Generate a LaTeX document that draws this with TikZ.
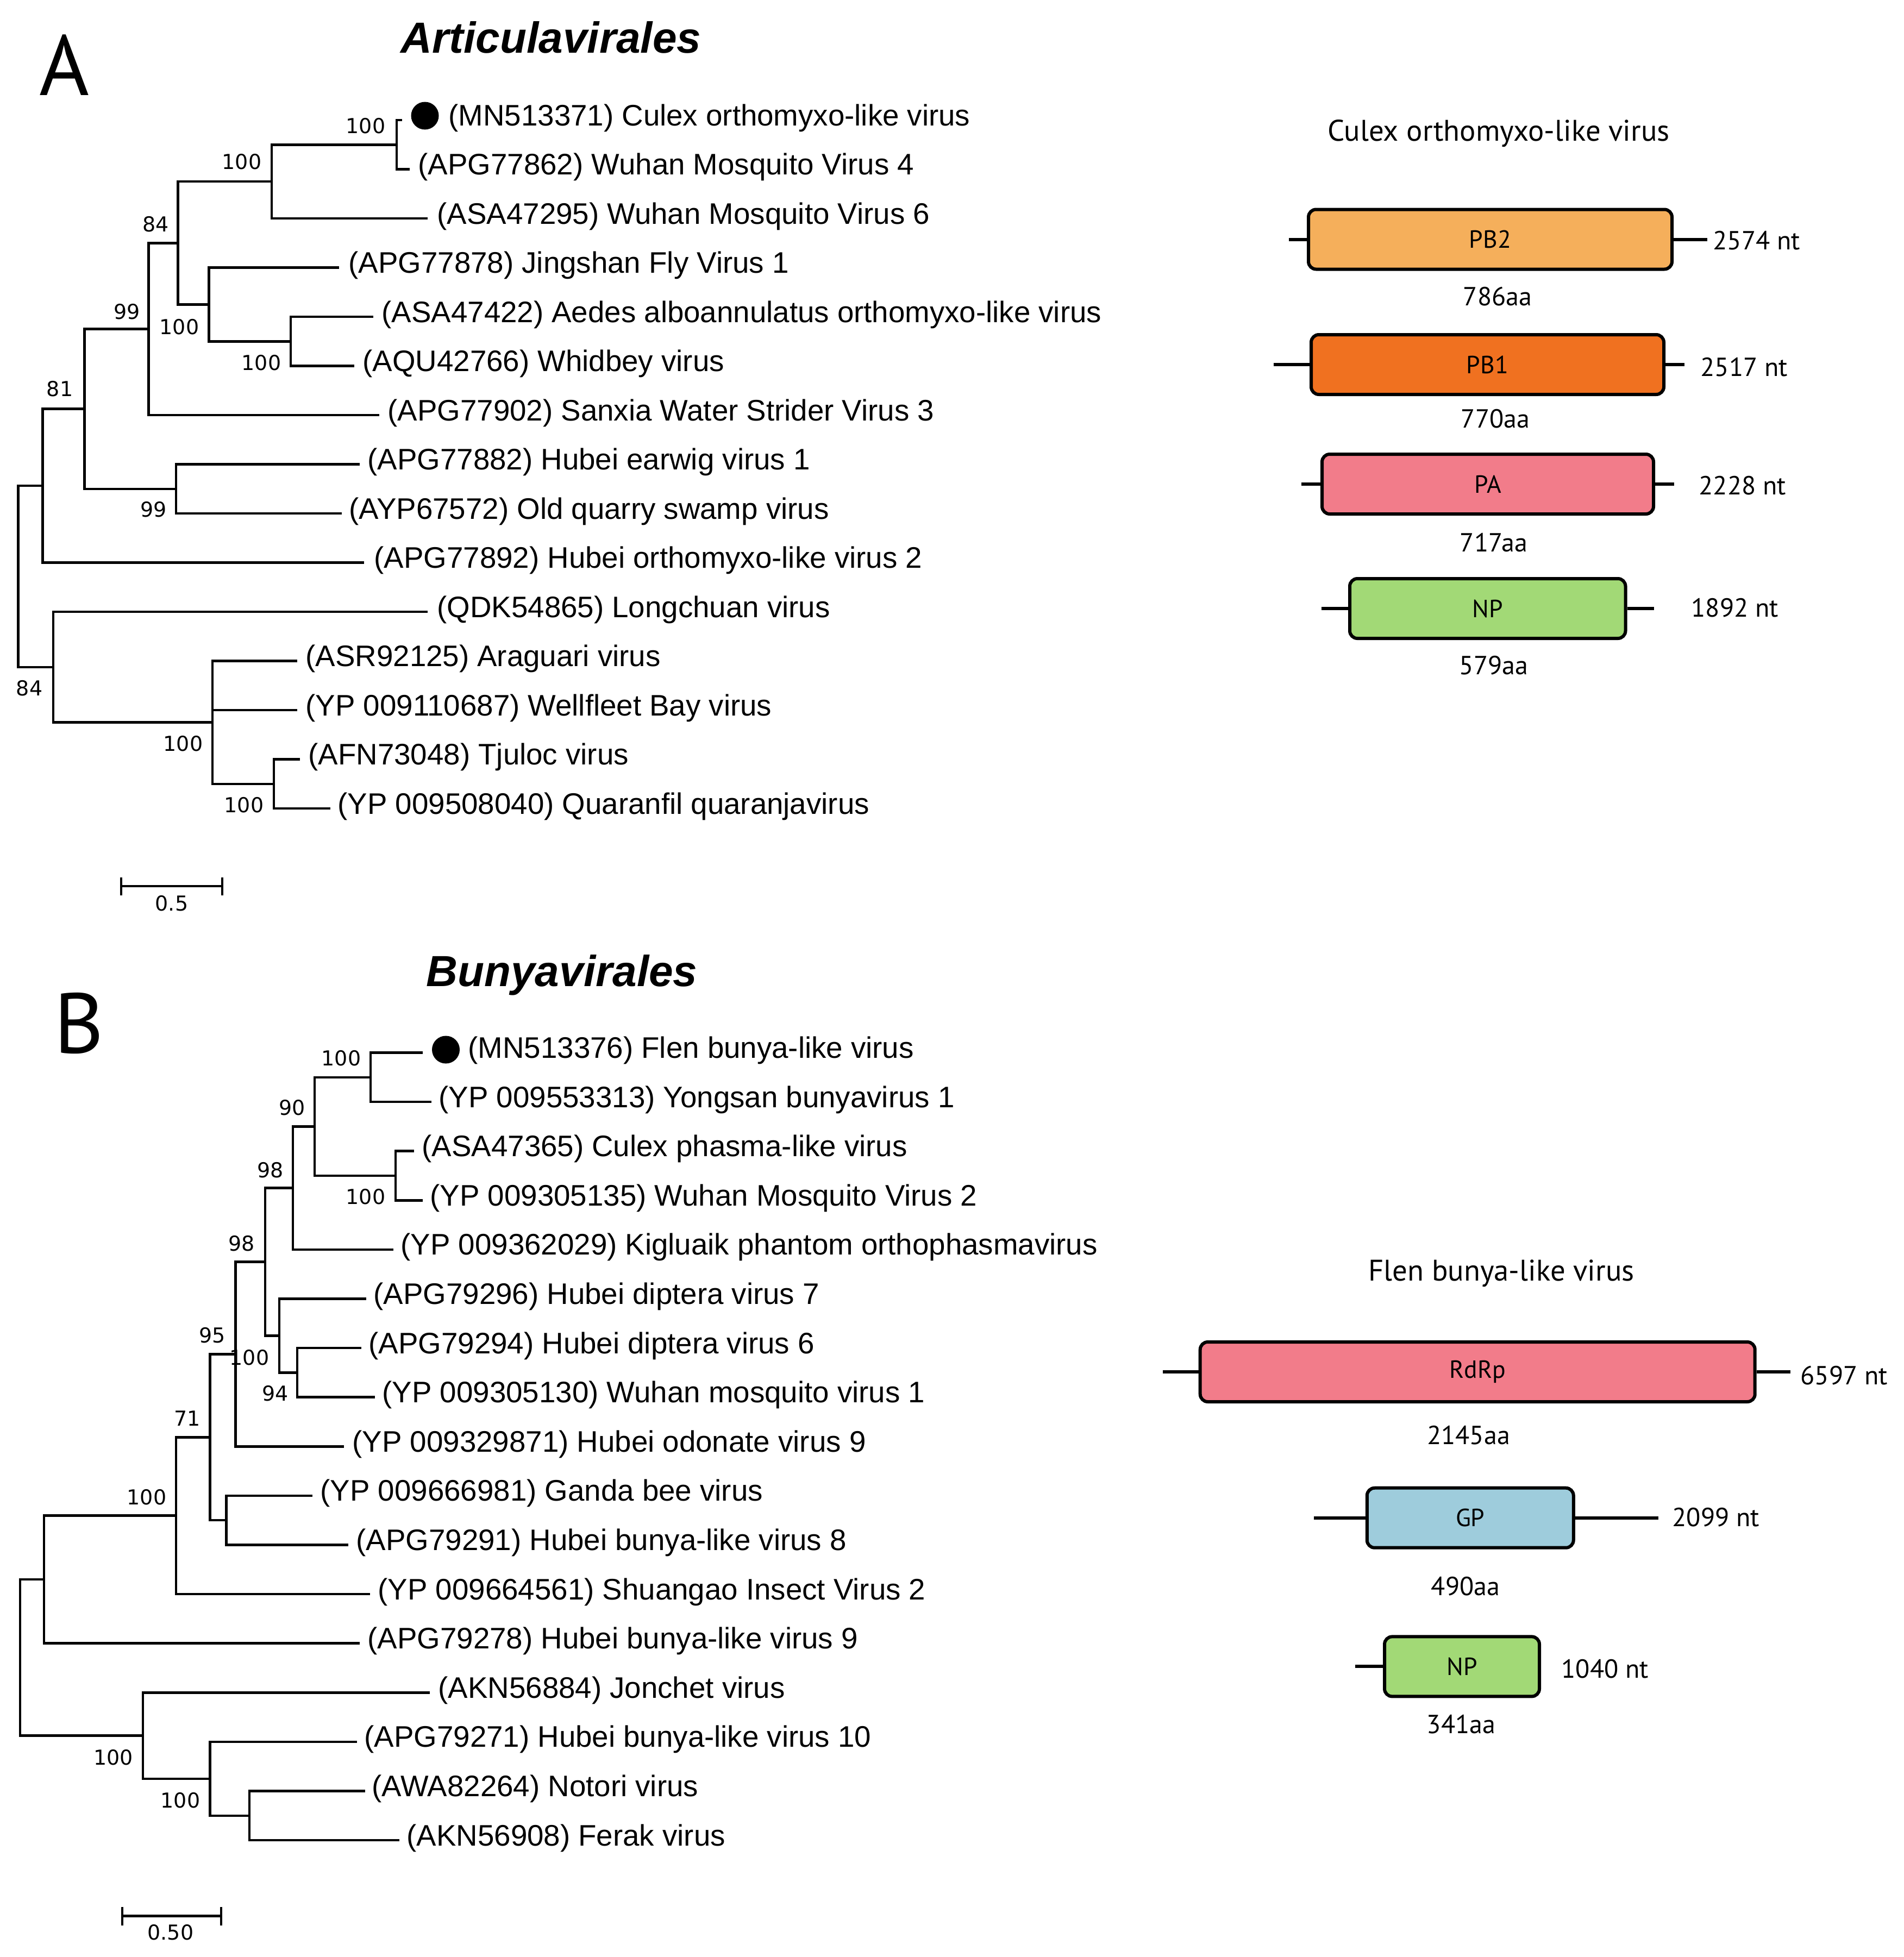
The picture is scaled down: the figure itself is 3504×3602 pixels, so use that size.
\documentclass[tikz,border=0pt]{standalone}
\usepackage{fontspec}
\setmainfont{Liberation Sans}
\newfontfamily\genefont{PT Sans}
\newfontfamily\bootfont{DejaVu Sans}
\usetikzlibrary{positioning}

\definecolor{pbtwo}{RGB}{245,175,91}
\definecolor{pbone}{RGB}{240,113,32}
\definecolor{papink}{RGB}{242,124,138}
\definecolor{npgreen}{RGB}{162,217,118}
\definecolor{gpblue}{RGB}{158,204,220}

\tikzset{
  branch/.style={line width=0.45mm},
  leafname/.style={anchor=base west, inner sep=0pt, font={\fontsize{15.55}{18}\selectfont}},
  bootval/.style={anchor=east, inner sep=0pt, font={\bootfont\fontsize{10.8}{13}\selectfont}},
  marker/.style={circle, fill=black, inner sep=0pt, minimum size=5.1mm},
  paneltag/.style={inner sep=0pt, font={\genefont\fontsize{44.7}{50}\selectfont}},
  ordername/.style={anchor=base, inner sep=0pt, font={\bfseries\itshape\fontsize{22.8}{26}\selectfont}},
  genetitle/.style={inner sep=0pt, font={\genefont\fontsize{15.6}{18}\selectfont}},
  genebox/.style={draw, line width=0.6mm, rounded corners=1.4mm, inner sep=0pt,
    minimum height=11mm, font={\genefont\fontsize{13}{15}\selectfont}},
  genestub/.style={line width=0.6mm},
  ntlabel/.style={anchor=west, inner sep=0pt, font={\genefont\fontsize{13.7}{16}\selectfont}},
  aalabel/.style={inner sep=0pt, font={\genefont\fontsize{13.7}{16}\selectfont}}
}

\begin{document}
\begin{tikzpicture}[x=0.1mm, y=-0.1mm]
\useasboundingbox (0,0) rectangle (3504,3602);

% ---------- panel A : Articulavirales tree
\node[paneltag] (pA) at (118,120) {A};
\node[ordername] (oA) at (1014,97) {Articulavirales};

\coordinate (la1) at (740,221);
\coordinate (la2) at (754,311.5);
\coordinate (la3) at (787,402);
\coordinate (la4) at (624,492.5);
\coordinate (la5) at (687,583);
\coordinate (la6) at (652,673.5);
\coordinate (la7) at (698,764);
\coordinate (la8) at (661.5,854.5);
\coordinate (la9) at (629,945);
\coordinate (la10) at (670,1035.5);
\coordinate (la11) at (787,1126);
\coordinate (la12) at (547,1216.5);
\coordinate (la13) at (547,1307);
\coordinate (la14) at (552,1397.5);
\coordinate (la15) at (607.5,1488);

\coordinate (a1) at (730,266.25);
\coordinate (a2) at (500,334.1);
\coordinate (a3) at (327.6,447.25);
\coordinate (a4) at (535,628.25);
\coordinate (a5) at (384.4,560.4);
\coordinate (a6) at (273.6,605.6);
\coordinate (a7) at (324,899.75);
\coordinate (a8) at (155.7,752.7);
\coordinate (a9) at (78.6,894.1);
\coordinate (a10) at (98,1227.8);
\coordinate (a11) at (391,1329.6);
\coordinate (a12) at (504,1442.75);
\coordinate (ar) at (33.7,1061);

\draw[branch] (a1) |- (la1) (a1) |- (la2)
  (a2) |- (a1) (a2) |- (la3)
  (a4) |- (la5) (a4) |- (la6)
  (a5) |- (la4) (a5) |- (a4)
  (a3) |- (a2) (a3) |- (a5)
  (a6) |- (a3) (a6) |- (la7)
  (a7) |- (la8) (a7) |- (la9)
  (a8) |- (a6) (a8) |- (a7)
  (a9) |- (a8) (a9) |- (la10)
  (a12) |- (la14) (a12) |- (la15)
  (a11) |- (la12) (a11) |- (la13) (a11) |- (a12)
  (a10) |- (la11) (a10) |- (a11)
  (ar) |- (a9) (ar) |- (a10);

\node[marker] (ma) at (782,213) {};
\node[leafname] (ta1) at (825,231) {(MN513371) Culex orthomyxo-like virus};
\node[leafname] (ta2) at (769,321.5) {(APG77862) Wuhan Mosquito Virus 4};
\node[leafname] (ta3) at (804,412) {(ASA47295) Wuhan Mosquito Virus 6};
\node[leafname] (ta4) at (641,502.5) {(APG77878) Jingshan Fly Virus 1};
\node[leafname] (ta5) at (702,593) {(ASA47422) Aedes alboannulatus orthomyxo-like virus};
\node[leafname] (ta6) at (667,683.5) {(AQU42766) Whidbey virus};
\node[leafname] (ta7) at (713,774) {(APG77902) Sanxia Water Strider Virus 3};
\node[leafname] (ta8) at (676,864.5) {(APG77882) Hubei earwig virus 1};
\node[leafname] (ta9) at (642,955) {(AYP67572) Old quarry swamp virus};
\node[leafname] (ta10) at (688,1045.5) {(APG77892) Hubei orthomyxo-like virus 2};
\node[leafname] (ta11) at (804,1136) {(QDK54865) Longchuan virus};
\node[leafname] (ta12) at (562,1226.5) {(ASR92125) Araguari virus};
\node[leafname] (ta13) at (562,1317) {(YP 009110687) Wellfleet Bay virus};
\node[leafname] (ta14) at (567,1407.5) {(AFN73048) Tjuloc virus};
\node[leafname] (ta15) at (621,1498) {(YP 009508040) Quaranfil quaranjavirus};

\node[bootval] (ba1) at (710,232) {100};
\node[bootval] (ba2) at (482,298) {100};
\node[bootval] (ba3) at (311,413) {84};
\node[bootval] (ba6) at (258,573.5) {99};
\node[bootval] (ba5) at (367,601.5) {100};
\node[bootval] (ba4) at (518,668) {100};
\node[bootval] (ba8) at (135,716) {81};
\node[bootval] (ba7) at (307,938) {99};
\node[bootval] (ba10) at (79,1267) {84};
\node[bootval] (ba11) at (374,1369) {100};
\node[bootval] (ba12) at (486,1482) {100};

% scale bar A
\coordinate (sa1) at (223,1631);
\coordinate (sa2) at (409,1631);
\draw[branch] (sa1) -- (sa2);
\draw[branch] ([yshift=1.65mm]sa1) -- ([yshift=-1.65mm]sa1);
\draw[branch] ([yshift=1.65mm]sa2) -- ([yshift=-1.65mm]sa2);
\node[bootval, anchor=center] (sla) at (316,1663) {0.5};

% ---------- panel A : segments
\node[genetitle] (ga) at (2758,246) {Culex orthomyxo-like virus};

\node[genebox, fill=pbtwo, minimum width=66.9mm] (pb2) at (2742.5,440.5) {PB2};
\coordinate (pb2l) at (2372,440.5);
\coordinate (pb2r) at (3142,440.5);
\draw[genestub] (pb2l) -- (pb2.west) (pb2.east) -- (pb2r);
\node[ntlabel] (pb2nt) at (3152,443) {2574 nt};
\node[aalabel] (pb2aa) at (2756,546) {786aa};

\node[genebox, fill=pbone, minimum width=64.9mm] (pb1) at (2737.5,671) {PB1};
\coordinate (pb1l) at (2343.5,671);
\coordinate (pb1r) at (3100,671);
\draw[genestub] (pb1l) -- (pb1.west) (pb1.east) -- (pb1r);
\node[ntlabel] (pb1nt) at (3129,676) {2517 nt};
\node[aalabel] (pb1aa) at (2752,771) {770aa};

\node[genebox, fill=papink, minimum width=61mm] (pa) at (2738,891) {PA};
\coordinate (pal) at (2395,891);
\coordinate (par) at (3081,891);
\draw[genestub] (pal) -- (pa.west) (pa.east) -- (par);
\node[ntlabel] (pant) at (3126,894) {2228 nt};
\node[aalabel] (paaa) at (2749,999) {717aa};

\node[genebox, fill=npgreen, minimum width=50.75mm] (npa) at (2737.75,1120) {NP};
\coordinate (npal) at (2432,1120);
\coordinate (npar) at (3043.6,1120);
\draw[genestub] (npal) -- (npa.west) (npa.east) -- (npar);
\node[ntlabel] (npant) at (3112,1119) {1892 nt};
\node[aalabel] (npaaa) at (2749,1225) {579aa};

% ---------- panel B : Bunyavirales tree
\node[paneltag] (pB) at (145,1883) {B};
\node[ordername] (oB) at (1034,1815) {Bunyavirales};

\coordinate (lb1) at (778,1937.5);
\coordinate (lb2) at (794,2028.1);
\coordinate (lb3) at (762,2118.7);
\coordinate (lb4) at (778,2209.3);
\coordinate (lb5) at (724,2299.9);
\coordinate (lb6) at (674,2390.5);
\coordinate (lb7) at (664.6,2481.1);
\coordinate (lb8) at (690,2571.7);
\coordinate (lb9) at (632.7,2662.3);
\coordinate (lb10) at (575,2752.9);
\coordinate (lb11) at (641,2843.5);
\coordinate (lb12) at (681,2934.1);
\coordinate (lb13) at (662,3024.7);
\coordinate (lb14) at (791,3115.3);
\coordinate (lb15) at (657,3205.9);
\coordinate (lb16) at (671.6,3296.5);
\coordinate (lb17) at (734.7,3387.1);

\coordinate (b1) at (682,1982.8);
\coordinate (b2) at (728,2164);
\coordinate (b3) at (579,2073.4);
\coordinate (b4) at (539,2186.65);
\coordinate (b5) at (547,2526.4);
\coordinate (b6) at (514,2458.45);
\coordinate (b7) at (488,2322.55);
\coordinate (b8) at (433.7,2492.4);
\coordinate (b9) at (416.5,2798.2);
\coordinate (b10) at (386.5,2645.3);
\coordinate (b11) at (324,2789.7);
\coordinate (b12) at (81,2907.2);
\coordinate (b13) at (459,3341.8);
\coordinate (b14) at (386.5,3273.85);
\coordinate (b15) at (263,3194.6);
\coordinate (br) at (37,3050.9);

\draw[branch] (b1) |- (lb1) (b1) |- (lb2)
  (b2) |- (lb3) (b2) |- (lb4)
  (b3) |- (b1) (b3) |- (b2)
  (b4) |- (b3) (b4) |- (lb5)
  (b5) |- (lb7) (b5) |- (lb8)
  (b6) |- (lb6) (b6) |- (b5)
  (b7) |- (b4) (b7) |- (b6)
  (b8) |- (b7) (b8) |- (lb9)
  (b9) |- (lb10) (b9) |- (lb11)
  (b10) |- (b8) (b10) |- (b9)
  (b11) |- (b10) (b11) |- (lb12)
  (b12) |- (b11) (b12) |- (lb13)
  (b13) |- (lb16) (b13) |- (lb17)
  (b14) |- (lb15) (b14) |- (b13)
  (b15) |- (lb14) (b15) |- (b14)
  (br) |- (b12) (br) |- (b15);

\node[marker] (mb) at (820.5,1932) {};
\node[leafname] (tb1) at (861,1947.5) {(MN513376) Flen bunya-like virus};
\node[leafname] (tb2) at (807,2038.1) {(YP 009553313) Yongsan bunyavirus 1};
\node[leafname] (tb3) at (776,2128.7) {(ASA47365) Culex phasma-like virus};
\node[leafname] (tb4) at (791,2219.3) {(YP 009305135) Wuhan Mosquito Virus 2};
\node[leafname] (tb5) at (737,2309.9) {(YP 009362029) Kigluaik phantom orthophasmavirus};
\node[leafname] (tb6) at (687,2400.5) {(APG79296) Hubei diptera virus 7};
\node[leafname] (tb7) at (678,2491.1) {(APG79294) Hubei diptera virus 6};
\node[leafname] (tb8) at (703,2581.7) {(YP 009305130) Wuhan mosquito virus 1};
\node[leafname] (tb9) at (648,2672.3) {(YP 009329871) Hubei odonate virus 9};
\node[leafname] (tb10) at (589,2762.9) {(YP 009666981) Ganda bee virus};
\node[leafname] (tb11) at (655,2853.5) {(APG79291) Hubei bunya-like virus 8};
\node[leafname] (tb12) at (695,2944.1) {(YP 009664561) Shuangao Insect Virus 2};
\node[leafname] (tb13) at (676,3034.7) {(APG79278) Hubei bunya-like virus 9};
\node[leafname] (tb14) at (806,3125.3) {(AKN56884) Jonchet virus};
\node[leafname] (tb15) at (670,3215.9) {(APG79271) Hubei bunya-like virus 10};
\node[leafname] (tb16) at (684,3306.5) {(AWA82264) Notori virus};
\node[leafname] (tb17) at (748,3397.1) {(AKN56908) Ferak virus};

\node[bootval] (bb1) at (665,1947.6) {100};
\node[bootval] (bb2) at (710,2203) {100};
\node[bootval] (bb3) at (562,2039) {90};
\node[bootval] (bb4) at (522,2154) {98};
\node[bootval] (bb7) at (469.5,2289) {98};
\node[bootval] (bb8) at (415,2458) {95};
\node[bootval] (bb6) at (496,2498.6) {100};
\node[bootval] (bb5) at (531,2564.6) {94};
\node[bootval] (bb10) at (369,2610.6) {71};
\node[bootval] (bb11) at (307,2756) {100};
\node[bootval] (bb15) at (245.6,3234.6) {100};
\node[bootval] (bb14) at (369,3314) {100};

% scale bar B
\coordinate (sb1) at (225,3526.7);
\coordinate (sb2) at (407,3526.7);
\draw[branch] (sb1) -- (sb2);
\draw[branch] ([yshift=1.7mm]sb1) -- ([yshift=-1.7mm]sb1);
\draw[branch] ([yshift=1.7mm]sb2) -- ([yshift=-1.7mm]sb2);
\node[bootval, anchor=center] (slb) at (314,3557) {0.50};

% ---------- panel B : segments
\node[genetitle] (gb) at (2763,2344) {Flen bunya-like virus};

\node[genebox, fill=papink, minimum width=102.1mm] (rdrp) at (2719.2,2525) {RdRp};
\coordinate (rdrpl) at (2140,2525);
\coordinate (rdrpr) at (3295,2525);
\draw[genestub] (rdrpl) -- (rdrp.west) (rdrp.east) -- (rdrpr);
\node[ntlabel] (rdrpnt) at (3313,2532) {6597 nt};
\node[aalabel] (rdrpaa) at (2702.6,2642) {2145aa};

\node[genebox, fill=gpblue, minimum width=38mm] (gp) at (2705.75,2793.7) {GP};
\coordinate (gpl) at (2418,2793.7);
\coordinate (gpr) at (3052,2793.7);
\draw[genestub] (gpl) -- (gp.west) (gp.east) -- (gpr);
\node[ntlabel] (gpnt) at (3077,2793) {2099 nt};
\node[aalabel] (gpaa) at (2697,2919.7) {490aa};

\node[genebox, fill=npgreen, minimum width=28.5mm] (npb) at (2690.5,3067.35) {NP};
\coordinate (npbl) at (2494,3067.35);
\draw[genestub] (npbl) -- (npb.west);
\node[ntlabel] (npbnt) at (2873,3072) {1040 nt};
\node[aalabel] (npbaa) at (2689,3173.5) {341aa};

\end{tikzpicture}
\end{document}
